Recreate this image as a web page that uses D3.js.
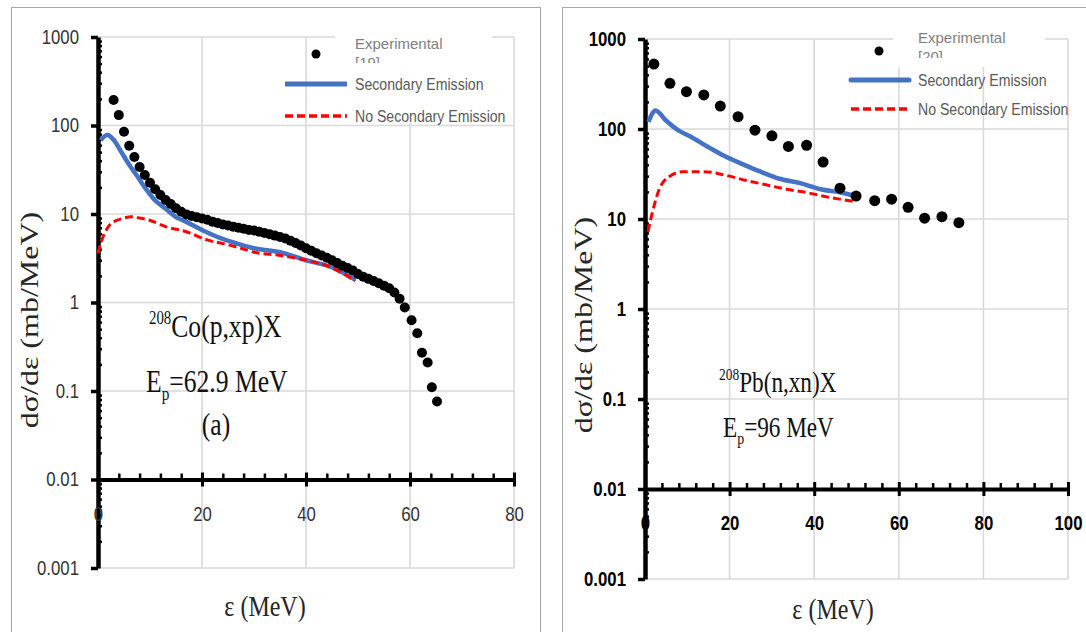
<!DOCTYPE html>
<html>
<head>
<meta charset="utf-8">
<script src="https://cdn.jsdelivr.net/npm/d3@7"></script>
<style>
  body { margin: 0; background: #fff; }
</style>
</head>
<body>
<svg id="chart" width="1086" height="632"></svg>
<script>
"use strict";

// ---- left panel : 208Co(p,xp)X, Ep = 62.9 MeV ----
var coExpE = [3, 4, 5, 6, 7, 8, 9, 10, 11, 12, 13, 14, 15, 16, 17, 18, 19, 20, 21, 22,
  23, 24, 25, 26, 27, 28, 29, 30, 31, 32, 33, 34, 35, 36, 37, 38, 39, 40, 41, 42,
  43, 44, 45, 46, 47, 48, 49, 50, 51, 52, 53, 54, 55, 56, 57, 58, 59,
  60.3, 61.4, 62.3, 63.4, 64.2, 65.2];
var coExpVal = [194, 131, 85, 59, 44, 34, 27.6, 22.6, 19, 16.4, 14.4, 13, 11.6, 10.6, 9.9, 9.5, 9.2, 8.9, 8.6, 8.2,
  7.9, 7.6, 7.4, 7.2, 7.0, 6.8, 6.6, 6.5, 6.3, 6.1, 5.9, 5.7, 5.5, 5.3, 5.0, 4.7, 4.4, 4.1, 3.85, 3.6,
  3.4, 3.2, 3.0, 2.8, 2.6, 2.45, 2.3, 2.1, 1.95, 1.85, 1.75, 1.65, 1.55, 1.45, 1.3, 1.1, 0.88,
  0.63, 0.45, 0.27, 0.21, 0.11, 0.076];
var coSecE = [0.5, 1.8, 3, 4.5, 6, 7.5, 9, 10.9, 12.9, 14.9, 16.9, 20, 23, 27.5, 30, 35, 40, 45, 49.5];
var coSecVal = [68, 78, 69, 50, 36, 27, 20, 14.4, 11.6, 9.3, 8.2, 6.6, 5.5, 4.5, 4.1, 3.7, 3.0, 2.5, 1.8];
var coNoSecE = [0, 0.8, 1.6, 2.5, 3.7, 5, 6.5, 8, 9.9, 13, 17, 21, 25, 27.5, 30, 35, 40, 44, 49.5];
var coNoSecVal = [3.6, 5.2, 6.6, 7.8, 8.5, 9.0, 9.3, 9.0, 8.5, 7.2, 6.3, 5.1, 4.5, 4.1, 3.7, 3.4, 3.0, 2.6, 1.75];

// ---- right panel : 208Pb(n,xn)X, Ep = 96 MeV ----
var pbExpE = [2.1, 5.9, 9.8, 13.9, 17.8, 22, 26, 30, 33.9, 38.2, 42.1, 46.1, 49.9, 54.3, 58.3, 62.2, 66.1, 70.2, 74.2];
var pbExpVal = [527, 322, 260, 239, 180, 137, 97, 84, 64, 66, 43, 22, 18, 16, 16.6, 13.5, 10.2, 10.6, 9.1];
var pbSecE = [0.8, 2.5, 4.9, 7.8, 10.6, 14.7, 18.8, 22.9, 27, 31.8, 36.7, 41.6, 46.5, 49.8];
var pbSecVal = [120, 161, 125, 97, 83, 64, 50, 41, 34, 28, 25, 21.4, 19.6, 18];
var pbNoSecE = [0.7, 1.7, 3.3, 5.7, 9, 13.9, 18.8, 23.7, 28.6, 33.5, 38.4, 43.3, 49.8];
var pbNoSecVal = [7.2, 11.6, 21, 29.5, 33.6, 33.6, 30.8, 27, 24, 21.4, 19.6, 17.5, 15.6];

// ---- axes ----
var yTickVals = [0.001, 0.01, 0.1, 1, 10, 100, 1000];
var yTickLabels = ["0.001", "0.01", "0.1", "1", "10", "100", "1000"];
var coXTicks = [0, 20, 40, 60, 80];
var pbXTicks = [0, 20, 40, 60, 80, 100];
var legendNames = ["Experimental", "Secondary Emission", "No Secondary Emission"];

var svg = d3.select("#chart");
var blue = "#4472c4", red = "#ff0000", grid = "#d9d9d9";

// the source figure is squeezed sideways, so texts get a horizontal scale
function squash(sel, sx) {
  sel.each(function() {
    var t = d3.select(this);
    var x = +t.attr("x") || 0, y = +t.attr("y") || 0;
    t.attr("x", null).attr("y", null)
      .attr("transform", "translate(" + x + "," + y + ") scale(" + sx + ",1)");
  });
}

function zip(a, b) { return a.map(function(v, i) { return [v, b[i]]; }); }

function drawPanel(p) {
  var g = svg.append("g");
  var x = d3.scaleLinear().domain([0, p.xMax]).range(p.xRange);
  var y = d3.scaleLog().domain([0.001, 1000]).range(p.yRange);

  // frame
  g.append("rect").attr("x", p.frame[0] + 0.5).attr("y", p.frame[1] + 0.5)
    .attr("width", p.frame[2]).attr("height", 700)
    .attr("fill", "#fff").attr("stroke", "#a6a6a6").attr("stroke-width", 1);

  // gridlines
  g.selectAll(".vg").data(p.xTicks.slice(1)).enter().append("line")
    .attr("x1", x).attr("x2", x).attr("y1", y(1000)).attr("y2", y(0.001))
    .attr("stroke", grid).attr("stroke-width", 1.6);
  g.selectAll(".hg").data(yTickVals).enter().append("line")
    .attr("x1", x(0)).attr("x2", x(p.xMax)).attr("y1", y).attr("y2", y)
    .attr("stroke", grid).attr("stroke-width", 1.6);

  // legend background hides the gridlines behind it
  g.append("rect").attr("x", p.legBox[0]).attr("y", p.legBox[1])
    .attr("width", p.legBox[2]).attr("height", p.legBox[3]).attr("fill", "#fff");

  // y axis (log)
  var ya = g.append("g").attr("transform", "translate(" + x(0) + ",0)")
    .call(d3.axisLeft(y).tickValues(yTickVals)
      .tickFormat(function(d, i) { return yTickLabels[i]; })
      .tickSizeInner(7).tickSizeOuter(0).tickPadding(12));
  ya.select(".domain").attr("stroke", "#000").attr("stroke-width", 4.5);
  ya.selectAll(".tick line").attr("stroke", "#000").attr("stroke-width", 3.5);
  var yMinor = y.ticks().filter(function(d) { return yTickVals.indexOf(d) < 0; });
  var ym = g.append("g").attr("transform", "translate(" + x(0) + ",0)")
    .call(d3.axisRight(y).tickValues(yMinor).tickFormat("").tickSizeInner(4).tickSizeOuter(0));
  ym.select(".domain").remove();
  ym.selectAll(".tick line").attr("stroke", "#000").attr("stroke-width", 2.5);

  // x axis sits on the 0.01 line
  var xa = g.append("g").attr("transform", "translate(0," + y(0.01) + ")")
    .call(d3.axisBottom(x).tickValues(p.xTicks).tickSizeInner(7).tickSizeOuter(0).tickPadding(20));
  xa.select(".domain").attr("stroke", "#000").attr("stroke-width", 4);
  xa.selectAll(".tick line").attr("y1", -7).attr("stroke", "#000").attr("stroke-width", 3);
  var xMinor = d3.range(0, p.xMax, 4).filter(function(d) { return d % 20 !== 0; });
  var xm = g.append("g").attr("transform", "translate(0," + y(0.01) + ")")
    .call(d3.axisTop(x).tickValues(xMinor).tickFormat("").tickSizeInner(6).tickSizeOuter(0));
  xm.select(".domain").remove();
  xm.selectAll(".tick line").attr("stroke", "#000").attr("stroke-width", 2.5);

  [ya, xa].forEach(function(a) {
    a.selectAll(".tick text")
      .attr("font-family", "Liberation Sans, Arial, sans-serif")
      .attr("font-size", 20)
      .attr("font-weight", p.bold ? "bold" : "normal")
      .attr("fill", p.bold ? "#000" : "#333")
      .call(squash, 0.84);
  });

  // series
  var line = d3.line().x(function(d) { return x(d[0]); }).y(function(d) { return y(d[1]); })
    .curve(d3.curveMonotoneX);
  g.append("path").datum(zip(p.secE, p.secVal)).attr("d", line)
    .attr("fill", "none").attr("stroke", blue).attr("stroke-width", 4.5);
  g.append("path").datum(zip(p.noSecE, p.noSecVal)).attr("d", line)
    .attr("fill", "none").attr("stroke", red).attr("stroke-width", 3).attr("stroke-dasharray", "8,4");
  g.selectAll(".dot").data(zip(p.expE, p.expVal)).enter().append("circle")
    .attr("cx", function(d) { return x(d[0]); }).attr("cy", function(d) { return y(d[1]); })
    .attr("r", p.r).attr("fill", "#000");

  // legend
  var L = p.leg;
  g.append("circle").attr("cx", L.dot[0]).attr("cy", L.dot[1]).attr("r", 4.5).attr("fill", "#000");
  g.append("text").attr("x", L.tx).attr("y", L.expY).text(legendNames[0])
    .attr("font-family", "Liberation Sans, Arial, sans-serif").attr("font-size", 15).attr("fill", "#7f7f7f");
  var clipId = "clip" + p.id;
  g.append("clipPath").attr("id", clipId).append("rect")
    .attr("x", L.tx - 5).attr("y", L.expY).attr("width", 60).attr("height", L.clipH);
  g.append("text").attr("x", L.tx).attr("y", L.expY + 19).text(p.ref)
    .attr("clip-path", "url(#" + clipId + ")")
    .attr("font-family", "Liberation Sans, Arial, sans-serif").attr("font-size", 15).attr("fill", "#7f7f7f");
  g.append("line").attr("x1", L.lx[0]).attr("x2", L.lx[1]).attr("y1", L.secY).attr("y2", L.secY)
    .attr("stroke", blue).attr("stroke-width", 5).attr("stroke-linecap", p.bold ? "round" : "butt");
  g.append("line").attr("x1", L.lx[0]).attr("x2", L.lx[1]).attr("y1", L.noY).attr("y2", L.noY)
    .attr("stroke", red).attr("stroke-width", 3.5).attr("stroke-dasharray", "8,4");
  [[legendNames[1], L.secY], [legendNames[2], L.noY]].forEach(function(t) {
    g.append("text").attr("x", L.tx).attr("y", t[1] + 6).text(t[0])
      .attr("font-family", "Liberation Sans, Arial, sans-serif").attr("font-size", 17).attr("fill", "#595959")
      .call(squash, 0.83);
  });

  // axis titles
  var serif = "Liberation Serif, Times New Roman, serif";
  g.append("text").attr("text-anchor", "middle").attr("dy", "0.3em")
    .attr("transform", "translate(" + p.yTitle[0] + "," + p.yTitle[1] + ") scale(0.8,1) rotate(-90)")
    .attr("font-family", serif).attr("font-size", 32).attr("fill", "#262626")
    .text("dσ/dε (mb/MeV)");
  g.append("text").attr("text-anchor", "middle").attr("x", p.xTitle[0]).attr("y", p.xTitle[1])
    .attr("font-family", serif).attr("font-size", 30).attr("fill", "#262626")
    .text("ε (MeV)").call(squash, 0.8);

  // reaction labels
  var fs = p.noteSize;
  var t1 = g.append("text").attr("x", p.note1[0]).attr("y", p.note1[1])
    .attr("font-family", serif).attr("font-size", fs).attr("fill", "#111");
  t1.append("tspan").attr("font-size", fs * 0.58).attr("dy", -fs * 0.42).text("208");
  t1.append("tspan").attr("dy", fs * 0.42).text(p.reaction);
  t1.call(squash, 0.8);
  var t2 = g.append("text").attr("x", p.note2[0]).attr("y", p.note2[1])
    .attr("font-family", serif).attr("font-size", fs).attr("fill", "#111");
  t2.append("tspan").text("E");
  t2.append("tspan").attr("font-size", fs * 0.6).attr("dy", fs * 0.25).text("p");
  t2.append("tspan").attr("dy", -fs * 0.25).text(p.energy);
  t2.call(squash, 0.8);
  if (p.tag) {
    g.append("text").attr("x", p.tag[0]).attr("y", p.tag[1]).attr("text-anchor", "middle")
      .attr("font-family", serif).attr("font-size", fs).attr("fill", "#111")
      .text("(a)").call(squash, 0.8);
  }
}

drawPanel({
  id: "L", frame: [11, 7, 529], xMax: 80, xTicks: coXTicks,
  xRange: [98, 514], yRange: [568, 37], bold: false, r: 5,
  expE: coExpE, expVal: coExpVal, secE: coSecE, secVal: coSecVal,
  noSecE: coNoSecE, noSecVal: coNoSecVal, ref: "[19]",
  legBox: [335, 30, 157, 93],
  leg: { dot: [316, 54], tx: 355, expY: 49, clipH: 14, lx: [285, 347], secY: 84, noY: 116 },
  yTitle: [30, 320], xTitle: [265, 616],
  noteSize: 32, reaction: "Co(p,xp)X", energy: "=62.9 MeV",
  note1: [149, 337], note2: [146, 392], tag: [216, 435]
});

drawPanel({
  id: "R", frame: [562, 7, 600], xMax: 100, xTicks: pbXTicks,
  xRange: [645, 1068], yRange: [579, 39], bold: true, r: 5.5,
  expE: pbExpE, expVal: pbExpVal, secE: pbSecE, secVal: pbSecVal,
  noSecE: pbNoSecE, noSecVal: pbNoSecVal, ref: "[20]",
  legBox: [893, 28, 152, 39],
  leg: { dot: [879, 51], tx: 918, expY: 43, clipH: 15, lx: [851, 909], secY: 80, noY: 109 },
  yTitle: [584, 325], xTitle: [833, 619],
  noteSize: 29, reaction: "Pb(n,xn)X", energy: "=96 MeV",
  note1: [719, 392], note2: [723, 437], tag: null
});
</script>
</body>
</html>
